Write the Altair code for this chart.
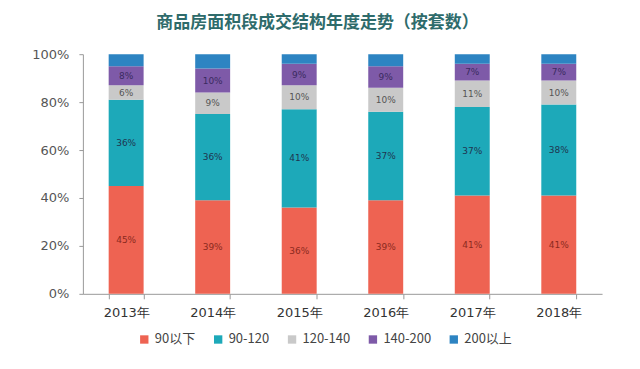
import altair as alt
import pandas as pd

years = ["2013年", "2014年", "2015年", "2016年", "2017年", "2018年"]
segments = ["90以下", "90-120", "120-140", "140-200", "200以上"]
v_90 = [45, 39, 36, 39, 41, 41]
v_90_120 = [36, 36, 41, 37, 37, 38]
v_120_140 = [6, 9, 10, 10, 11, 10]
v_140_200 = [8, 10, 9, 9, 7, 7]
v_200 = [5, 6, 4, 5, 4, 4]
colors = ["#EE6352", "#1DA9B9", "#C9C9C9", "#7E5AA8", "#2D84C2"]
label_colors = ["#8B2A20", "#1F3550", "#555555", "#3A2A60", "#ffffff"]

series = [v_90, v_90_120, v_120_140, v_140_200, v_200]
rows = []
for si, (seg, vals) in enumerate(zip(segments, series)):
    for yi, (yr, v) in enumerate(zip(years, vals)):
        rows.append({"year": yr, "segment": seg, "order": si, "value": v,
                     "label": f"{v}%" if si < 4 else "", "lc": label_colors[si]})
df = pd.DataFrame(rows)

base = alt.Chart(df).transform_stack(
    stack="value", groupby=["year"], sort=[alt.SortField("order")],
    as_=["v0", "v1"], offset="normalize"
).transform_calculate(mid="(datum.v0 + datum.v1) / 2")

bars = base.mark_bar(size=35).encode(
    x=alt.X("year:N", sort=years, title=None,
            scale=alt.Scale(paddingInner=0.6, paddingOuter=0.3),
            axis=alt.Axis(labelAngle=0, tickBand="extent", labelFont="DejaVu Sans",
                          labelFontSize=13, labelColor="#333333", domainColor="#999999",
                          tickColor="#999999", tickSize=5, labelPadding=8)),
    y=alt.Y("v0:Q", title=None, scale=alt.Scale(domain=[0, 1]),
            axis=alt.Axis(format="%", values=[0, 0.2, 0.4, 0.6, 0.8, 1.0], grid=False,
                          labelFont="DejaVu Sans", labelFontSize=13, labelColor="#555555",
                          domainColor="#999999", tickColor="#999999", tickSize=4,
                          labelPadding=10)),
    y2="v1:Q",
    color=alt.Color("segment:N", sort=segments,
                    scale=alt.Scale(domain=segments, range=colors),
                    legend=alt.Legend(title=None, orient="none", direction="horizontal",
                                      legendX=55, legendY=279, symbolType="square",
                                      symbolSize=70, labelFontSize=13,
                                      labelFont="Noto Sans CJK SC", labelColor="#444444",
                                      columnPadding=16, symbolStrokeWidth=0)),
)

labels = base.mark_text(fontSize=9, font="DejaVu Sans").encode(
    x=alt.X("year:N", sort=years),
    y=alt.Y("mid:Q"),
    text="label:N",
    color=alt.Color("lc:N", scale=None),
)

chart = alt.layer(bars, labels).properties(
    width=520, height=240,
    autosize=alt.AutoSizeParams(type="none"),
    padding={"left": 75, "top": 46, "right": 30, "bottom": 60},
    title=alt.TitleParams("商品房面积段成交结构年度走势（按套数）", font="Noto Sans CJK SC",
                          fontSize=17, fontWeight="bold", color="#2E6B6B",
                          anchor="middle", dx=-25, offset=16),
).configure_view(stroke=None)

chart.save("out.html", embed_options={"renderer": "svg", "actions": False})
